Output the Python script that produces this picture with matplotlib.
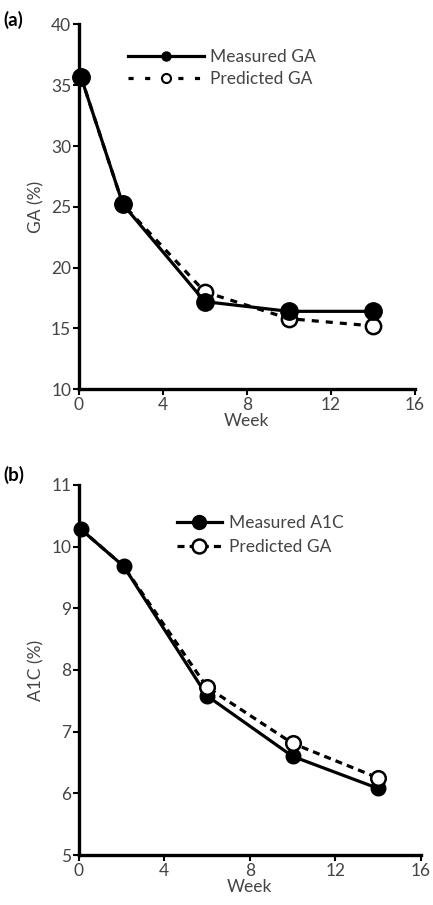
import matplotlib
matplotlib.use('Agg')
import matplotlib.pyplot as plt
from matplotlib.lines import Line2D

plt.rcParams['font.family'] = ['Lato', 'DejaVu Sans']

weeks = [0.1, 2.1, 6, 10, 14]

ga_measured = [35.7, 25.2, 17.2, 16.4, 16.4]
ga_predicted = [35.7, 25.2, 18.0, 15.8, 15.2]

a1c_measured = [10.28, 9.68, 7.58, 6.6, 6.08]
a1c_predicted = [10.28, 9.68, 7.72, 6.81, 6.25]

xticks = [0, 4, 8, 12, 16]
ga_ticks = [10, 15, 20, 25, 30, 35, 40]
a1c_ticks = [5, 6, 7, 8, 9, 10, 11]

txt = '#444444'
lw = 2.3
fs = 12.5

fig = plt.figure(figsize=(4.33, 9.05), dpi=100)
ax1 = fig.add_axes([0.182, 0.570, 0.776, 0.403])
ax2 = fig.add_axes([0.182, 0.0552, 0.790, 0.409])


def style(ax, ylim, yticks, ylabel):
    ax.set_xlim(0, 16)
    ax.set_ylim(*ylim)
    ax.set_xticks(xticks)
    ax.set_yticks(yticks)
    for s in ['top', 'right']:
        ax.spines[s].set_visible(False)
    for s in ['left', 'bottom']:
        ax.spines[s].set_linewidth(2.4)
        ax.spines[s].set_capstyle('projecting')
    ax.tick_params(axis='both', width=1.5, length=4, direction='out',
                   labelsize=fs, labelcolor=txt, pad=1.5)
    ax.set_xlabel('Week', fontsize=fs, color=txt, labelpad=0)
    ax.set_ylabel(ylabel, fontsize=fs, color=txt, labelpad=5)


# panel (a)
ax1.plot(weeks, ga_predicted, color='black', lw=lw, ls=(0, (2.2, 2.2)),
         marker='o', ms=11, mfc='white', mec='black', mew=1.8, zorder=2,
         clip_on=False)
ax1.plot(weeks, ga_measured, color='black', lw=lw, marker='o', ms=12.5,
         mfc='black', mec='black', zorder=3, clip_on=False)
style(ax1, (10, 40), ga_ticks, 'GA (%)')
handles_a = [
    Line2D([], [], color='black', lw=lw, marker='o', ms=6.5, mfc='black'),
    Line2D([], [], color='black', lw=lw, ls=(0, (1.6, 3.6)), marker='o', ms=6.5,
           mfc='white', mew=1.5),
]
ax1.legend(handles_a, ['Measured GA', 'Predicted GA'], loc='upper left',
           bbox_to_anchor=(0.1, 0.975), frameon=False, fontsize=fs,
           handlelength=4.4, handletextpad=0.3, labelspacing=0.35,
           labelcolor=txt)
fig.text(0.008, 0.978, '(a)', fontsize=13.5, fontweight='bold', color='black',
         va='center')

# panel (b)
ax2.plot(weeks, a1c_measured, color='black', lw=lw, marker='o', ms=10.5,
         mfc='black', mec='black', zorder=2, clip_on=False)
ax2.plot(weeks, a1c_predicted, color='black', lw=lw, ls=(0, (2.2, 1.6)),
         marker='o', ms=10.5, mfc='white', mec='black', mew=1.8, zorder=3,
         markevery=[2, 3, 4], clip_on=False)
style(ax2, (5, 11), a1c_ticks, 'A1C (%)')
handles_b = [
    Line2D([], [], color='black', lw=lw, marker='o', ms=10, mfc='black'),
    Line2D([], [], color='black', lw=lw, ls=(0, (2.2, 1.6)), marker='o', ms=10,
           mfc='white', mew=1.8),
]
ax2.legend(handles_b, ['Measured A1C', 'Predicted GA'], loc='upper left',
           bbox_to_anchor=(0.24, 0.96), frameon=False, fontsize=fs,
           handlelength=2.6, handletextpad=0.4, labelspacing=0.45,
           labelcolor=txt)
fig.text(0.008, 0.475, '(b)', fontsize=13.5, fontweight='bold', color='black',
         va='center')

fig.savefig('out.png', dpi=100)
